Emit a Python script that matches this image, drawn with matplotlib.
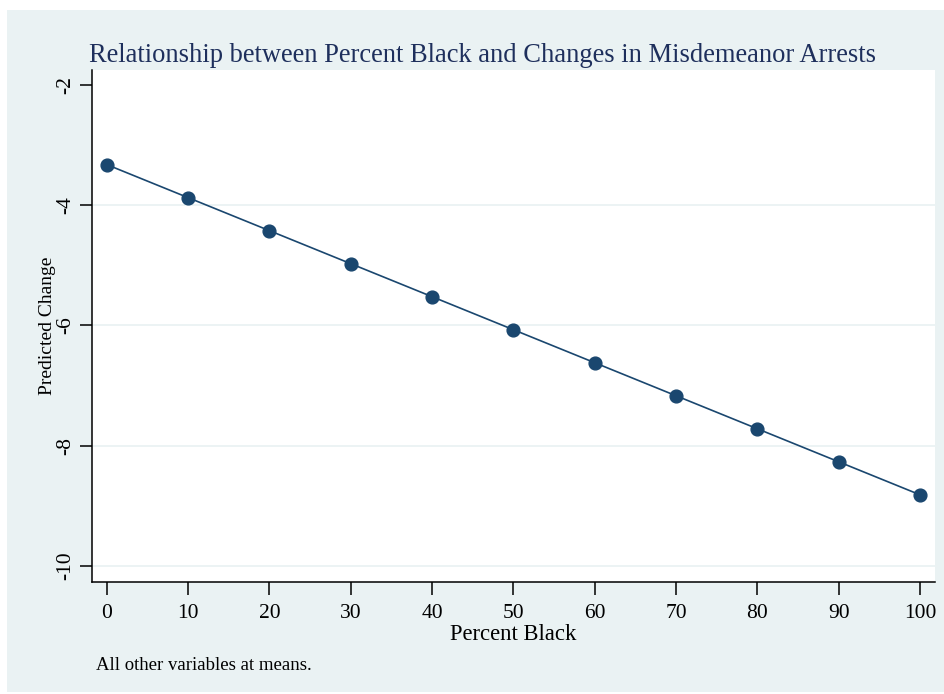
import matplotlib.pyplot as plt
from matplotlib.patches import Rectangle

# predicted change in misdemeanor arrests by percent black
pct_black = [0, 10, 20, 30, 40, 50, 60, 70, 80, 90, 100]
pred_change = [-3.32, -3.87, -4.42, -4.97, -5.52, -6.07, -6.62, -7.17, -7.72, -8.27, -8.82]
y_ticks = [-2, -4, -6, -8, -10]
grid_levels = [-4, -6, -8, -10]

BG = "#EAF2F3"
NAVY = "#1A476F"
TITLE_C = "#1E2F5C"

plt.rcParams["font.family"] = ["Liberation Serif", "DejaVu Serif"]
plt.rcParams["axes.unicode_minus"] = False

W, H = 944, 694
fig = plt.figure(figsize=(W / 100, H / 100), dpi=100, facecolor="white")
fig.patches.append(Rectangle((7 / W, 2 / H), 1 - 7 / W, (H - 12) / H,
                             transform=fig.transFigure, facecolor=BG,
                             edgecolor="none", zorder=-10))

ax = fig.add_axes([91.7 / W, 112.3 / H, (935 - 91.7) / W, (581.7 - 70) / H])
ax.set_facecolor("white")

for g in grid_levels:
    ax.axhline(g, color=BG, lw=1.3, zorder=1)

ax.plot(pct_black, pred_change, color=NAVY, lw=1.2, marker="o",
        markersize=9.2, markerfacecolor=NAVY, markeredgecolor=NAVY, zorder=3)

ax.set_xlim(-1.84, 101.84)
ax.set_ylim(-10.267, -1.745)
ax.set_xticks(pct_black)
ax.set_yticks(y_ticks)

for s in ("top", "right"):
    ax.spines[s].set_visible(False)
for s in ("left", "bottom"):
    ax.spines[s].set_linewidth(1.1)

ax.tick_params(axis="both", length=9, width=1.1, labelsize=15.5, pad=7)
ax.tick_params(axis="y", labelrotation=90, pad=3)
for lbl in ax.get_yticklabels():
    lbl.set_va("center")

ax.set_xlabel("Percent Black", fontsize=16.3, labelpad=1)
ax.set_ylabel("Predicted Change", fontsize=14, labelpad=0)

fig.text(482.5 / W, (H - 61.7) / H,
         "Relationship between Percent Black and Changes in Misdemeanor Arrests",
         fontsize=19.1, color=TITLE_C, ha="center", va="baseline")
fig.text(96 / W, (H - 670) / H, "All other variables at means.",
         fontsize=13.5, ha="left", va="baseline")

fig.savefig("out.png", dpi=100, facecolor="white")
